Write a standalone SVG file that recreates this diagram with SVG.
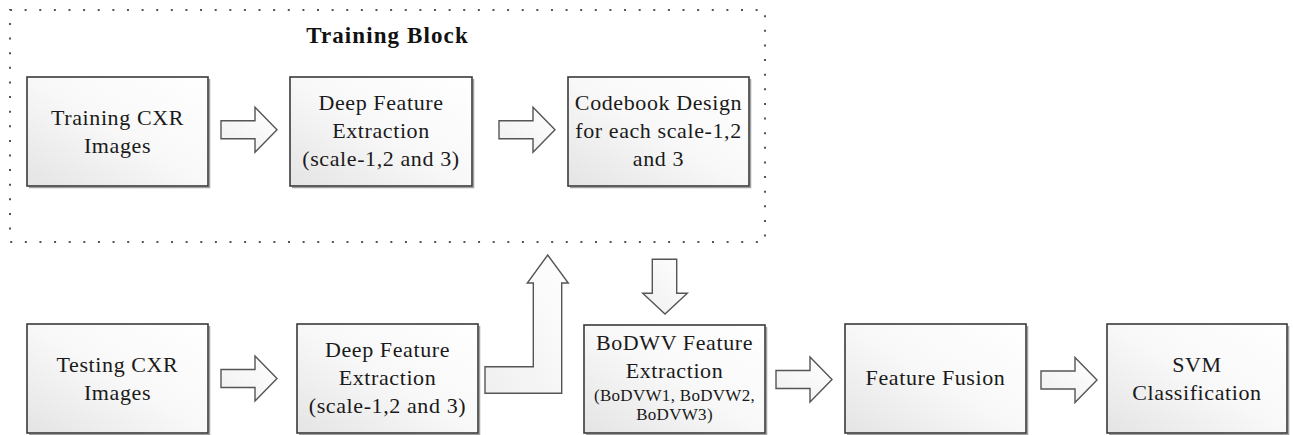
<svg xmlns="http://www.w3.org/2000/svg" width="1293" height="435" viewBox="0 0 1293 435">
  <defs>
    <linearGradient id="boxFill" x1="0" y1="1" x2="1" y2="0">
      <stop offset="0" stop-color="#e4e4e4"/>
      <stop offset="0.5" stop-color="#f8f8f8"/>
      <stop offset="1" stop-color="#ffffff"/>
    </linearGradient>
    <linearGradient id="arrowFill" x1="0" y1="1" x2="1" y2="0">
      <stop offset="0" stop-color="#efefef"/>
      <stop offset="1" stop-color="#ffffff"/>
    </linearGradient>
    <!-- block arrow pointing right, origin at tail/centre line -->
    <path id="rightArrow" d="M0,-9 H34 V-22.5 L56,0 L34,22.5 V9 H0 Z"/>
  </defs>
  <style>
    .box { fill: url(#boxFill); stroke: #3a3a3a; stroke-width: 1.6; }
    .shadow { fill: none; stroke: #a0a0a0; stroke-width: 1.5; }
    .arrow { fill: url(#arrowFill); stroke: #555555; stroke-width: 1.4; stroke-linejoin: miter; }
    .label { font-family: "Liberation Serif", serif; font-size: 22px; fill: #1a1a1a; text-anchor: middle; letter-spacing: 0.6px; }
    .small { font-size: 17px; letter-spacing: 0.3px; }
    .title { font-family: "Liberation Serif", serif; font-size: 23px; font-weight: bold; fill: #111111; text-anchor: middle; letter-spacing: 1.1px; }
    .frame { fill: none; stroke: #555555; stroke-width: 2; stroke-dasharray: 2 12.62; }
  </style>

  <rect fill="#ffffff" x="0" y="0" width="1293" height="435"/>

  <!-- training block frame -->
  <g id="training-block">
    <rect class="frame" x="10" y="10" width="755" height="232"/>
    <text class="title" x="387.5" y="43">Training Block</text>
  </g>

  <g id="training-images">
    <path class="shadow" d="M29,187.5 H209.5 V79"/>
    <rect class="box" x="27" y="77" width="181" height="109"/>
    <text class="label" x="117.5" y="125">Training CXR</text>
    <text class="label" x="117.5" y="153">Images</text>
  </g>

  <g id="train-deep-features">
    <path class="shadow" d="M292,187.5 H473.5 V79"/>
    <rect class="box" x="290" y="77" width="182" height="109"/>
    <text class="label" x="381" y="110">Deep Feature</text>
    <text class="label" x="381" y="138">Extraction</text>
    <text class="label" x="381" y="166">(scale-1,2 and 3)</text>
  </g>

  <g id="codebook-design">
    <path class="shadow" d="M570,187.5 H750.5 V79"/>
    <rect class="box" x="568" y="77" width="181" height="109"/>
    <text class="label" x="658.5" y="110">Codebook Design</text>
    <text class="label" x="658.5" y="138">for each scale-1,2</text>
    <text class="label" x="658.5" y="166">and 3</text>
  </g>

  <g id="testing-images">
    <path class="shadow" d="M29,434.5 H209.5 V326"/>
    <rect class="box" x="27" y="324" width="181" height="109"/>
    <text class="label" x="117.5" y="372">Testing CXR</text>
    <text class="label" x="117.5" y="400">Images</text>
  </g>

  <g id="test-deep-features">
    <path class="shadow" d="M299,434.5 H479.5 V326"/>
    <rect class="box" x="297" y="324" width="181" height="109"/>
    <text class="label" x="387.5" y="357">Deep Feature</text>
    <text class="label" x="387.5" y="385">Extraction</text>
    <text class="label" x="387.5" y="413">(scale-1,2 and 3)</text>
  </g>

  <g id="bodwv-extraction">
    <path class="shadow" d="M586,434.5 H766.5 V327"/>
    <rect class="box" x="584" y="325" width="181" height="108"/>
    <text class="label" x="674.5" y="350">BoDWV Feature</text>
    <text class="label" x="674.5" y="378">Extraction</text>
    <text class="label small" x="674.5" y="401">(BoDVW1, BoDVW2,</text>
    <text class="label small" x="674.5" y="420">BoDVW3)</text>
  </g>

  <g id="feature-fusion">
    <path class="shadow" d="M847,434.5 H1027.5 V326"/>
    <rect class="box" x="845" y="324" width="181" height="109"/>
    <text class="label" x="935.5" y="385">Feature Fusion</text>
  </g>

  <g id="svm-classification">
    <path class="shadow" d="M1109,434.5 H1288.5 V326"/>
    <rect class="box" x="1107" y="324" width="180" height="109"/>
    <text class="label" x="1197" y="372">SVM</text>
    <text class="label" x="1197" y="400">Classification</text>
  </g>

  <!-- block arrows between stages -->
  <g id="connectors">
    <use href="#rightArrow" class="arrow" transform="translate(221,129.7)"/>
    <use href="#rightArrow" class="arrow" transform="translate(499,129.7)"/>
    <use href="#rightArrow" class="arrow" transform="translate(221,378.5)"/>
    <use href="#rightArrow" class="arrow" transform="translate(776,379.5)"/>
    <use href="#rightArrow" class="arrow" transform="translate(1041,380)"/>
    <!-- testing features up into the training block -->
    <path class="arrow" d="M485,366.7 H533.3 V283 H527.3 L547.7,255 L568.3,283 H561.7 V393.3 H485 Z"/>
    <!-- codebook down into BoDWV extraction -->
    <path class="arrow" d="M652.3,259.3 H676.7 V293.3 H687.3 L665,314 L642.7,293.3 H652.3 Z"/>
  </g>
</svg>
